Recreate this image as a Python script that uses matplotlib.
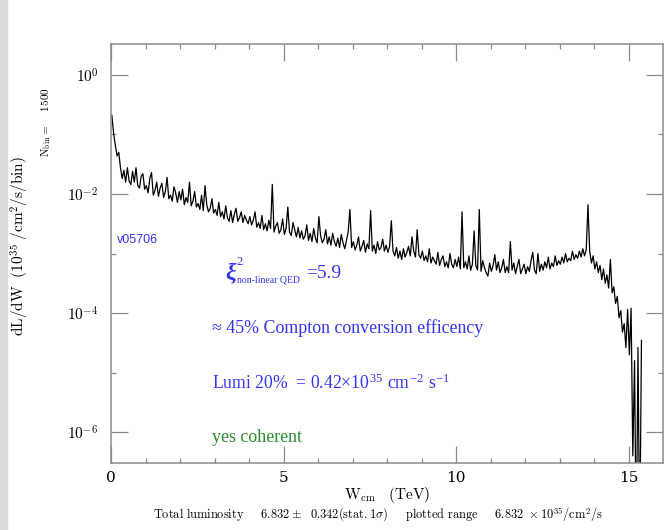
import numpy as np
import matplotlib
matplotlib.use("Agg")
import matplotlib.pyplot as plt
from matplotlib.patches import Rectangle

plt.rcParams['mathtext.fontset'] = 'cm'
plt.rcParams['font.family'] = 'serif'

# dL/dW histogram, log10 values, bins of 0.05 TeV starting at W = 0
bin_width = 0.05
log_lumi = [
    -0.68, -0.98, -1.18, -1.36, -1.30, -1.56, -1.74, -1.60, -1.80, -1.56,
    -1.78, -1.84, -1.62, -1.80, -1.56, -1.86, -1.90, -1.70, -1.66, -1.92,
    -1.86, -1.98, -1.74, -1.64, -2.02, -1.94, -1.80, -2.04, -1.90, -1.82,
    -2.06, -1.96, -1.72, -2.08, -2.02, -2.12, -1.88, -1.98, -2.14, -1.96,
    -2.10, -1.92, -2.18, -2.06, -2.14, -1.80, -2.20, -2.12, -1.96, -2.22,
    -2.16, -2.26, -2.02, -2.28, -1.86, -2.18, -2.30, -2.24, -2.08, -2.32,
    -2.26, -2.36, -2.14, -2.38, -2.30, -2.42, -2.20, -2.40, -2.46, -2.28,
    -2.48, -2.34, -2.24, -2.46, -2.40, -2.30, -2.48, -2.36, -2.44, -2.50,
    -2.38, -2.52, -2.44, -2.30, -2.56, -2.48, -2.58, -2.36, -2.60, -2.50,
    -2.62, -2.44, -2.58, -1.84, -2.64, -2.54, -2.48, -2.66, -2.60, -2.42,
    -2.68, -2.58, -2.22, -2.64, -2.70, -2.48, -2.60, -2.72, -2.56, -2.74,
    -2.62, -2.76, -2.70, -2.52, -2.78, -2.66, -2.80, -2.58, -2.74, -2.82,
    -2.38, -2.70, -2.82, -2.76, -2.60, -2.84, -2.72, -2.86, -2.66, -2.80,
    -2.88, -2.74, -2.90, -2.68, -2.82, -2.92, -2.78, -2.64, -2.26, -2.90,
    -2.80, -2.94, -2.86, -2.72, -2.96, -2.88, -2.78, -2.98, -2.84, -2.92,
    -2.28, -2.96, -2.86, -3.00, -2.80, -2.94, -2.90, -2.76, -2.96, -2.86,
    -2.98, -2.88, -2.45, -2.96, -3.04, -2.90, -3.08, -2.96, -3.10, -2.92,
    -3.06, -2.98, -2.88, -3.04, -2.72, -2.96, -3.06, -2.60, -3.02, -3.08,
    -2.96, -3.12, -3.04, -3.14, -2.92, -3.16, -3.06, -3.12, -3.18, -2.98,
    -3.20, -3.10, -3.04, -3.22, -3.14, -3.24, -3.00, -3.18, -3.24, -3.10,
    -3.22, -3.06, -3.26, -2.30, -3.24, -3.14, -3.26, -3.04, -3.28, -3.18,
    -2.62, -3.20, -3.28, -2.26, -3.30, -3.12, -3.24, -3.32, -3.38, -3.16,
    -3.30, -3.20, -3.02, -3.28, -3.14, -3.32, -3.24, -3.10, -3.32, -3.22,
    -3.32, -2.80, -3.28, -3.16, -3.34, -3.22, -3.10, -3.34, -3.26, -3.18,
    -3.34, -3.22, -3.30, -3.12, -2.98, -3.28, -3.34, -3.00, -3.30, -3.18,
    -3.28, -3.14, -3.24, -3.06, -3.26, -3.16, -3.22, -3.04, -3.20, -3.12,
    -3.18, -3.06, -3.16, -3.00, -3.14, -3.08, -3.12, -2.96, -3.10, -3.02,
    -3.08, -2.96, -3.06, -2.92, -3.04, -2.94, -2.18, -2.96, -3.16, -3.04,
    -3.26, -3.14, -3.32, -3.20, -3.44, -3.26, -3.50, -3.36, -3.58, -3.10,
    -3.66, -3.56, -3.84, -3.72, -4.08, -3.96, -4.32, -4.18, -4.58, -3.94,
    -4.70, -3.92, -6.40, -4.80, -8.00, -4.58, -8.00, -4.46,
]

x_ticks = [0, 5, 10, 15]
y_ticks = [1e0, 1e-2, 1e-4, 1e-6]
y_tick_labels = [r'$10^{0}$', r'$10^{-2}$', r'$10^{-4}$', r'$10^{-6}$']

blue = '#3434f2'
green = '#2a8c2a'
frame = '#8a8a8a'

W, H = 670, 530
fig = plt.figure(figsize=(W / 100, H / 100), dpi=100)
fig.patches.append(Rectangle((0, 0), 7 / W, 1, transform=fig.transFigure,
                             color='#dcdcdc', zorder=-1))

ax = fig.add_axes([111 / W, 67 / H, 552 / W, 419 / H])
centers = (np.arange(len(log_lumi)) + 0.5) * bin_width
ax.plot(centers, 10 ** np.array(log_lumi), color='black', lw=0.9)

ax.set_yscale('log')
ax.set_xlim(0, 16)
ax.set_ylim(10 ** -6.52, 10 ** 0.52)

ax.set_xticks(x_ticks)
ax.set_xticklabels([str(t) for t in x_ticks])
ax.set_xticks(np.arange(0, 16, 1), minor=True)
ax.set_yticks(y_ticks)
ax.set_yticklabels(y_tick_labels)
ax.set_yticks([1e-1, 1e-3, 1e-5], minor=True)
ax.yaxis.set_minor_formatter(matplotlib.ticker.NullFormatter())

for s in ax.spines.values():
    s.set_color(frame)
    s.set_linewidth(1.1)
ax.tick_params(which='both', direction='in', top=True, right=True, color=frame, width=0.9)
ax.tick_params(which='major', length=12, labelsize=11)
ax.tick_params(axis='x', which='major', pad=6)
ax.tick_params(axis='y', which='major', pad=9)
ax.tick_params(which='minor', length=3.6)

def px(x, y):
    return x / W, 1 - y / H

# axis labels and footer
fig.text(*px(20, 246), r'$\mathrm{dL/dW}\ \ (10^{35}\ /\mathrm{cm}^2/\mathrm{s}/\mathrm{bin})$',
         rotation=90, ha='center', va='center', fontsize=11)
fig.text(*px(46, 122), r'$\mathrm{N_{bin}}=\ \ \ \ 1500$', rotation=90,
         ha='center', va='center', fontsize=8)
fig.text(*px(387, 495), r'$\mathrm{W_{cm}}\quad(\mathrm{TeV})$', ha='center', va='center', fontsize=11)
fig.text(*px(378, 515),
         r'$\mathrm{Total\ luminosity}\ \ \ \ \ 6.832\pm\ \ 0.342(\mathrm{stat.}1\sigma)'
         r'\ \ \ \ \ \mathrm{plotted\ range}\ \ \ \ \ 6.832\ \times 10^{35}/\mathrm{cm}^2/\mathrm{s}$',
         ha='center', va='center', fontsize=8.9)

# annotations
fig.text(*px(117, 240), 'v05706', color=blue, family='Liberation Sans',
         fontsize=9, ha='left', va='center')
fig.text(*px(225, 273), 'ξ', color=blue, family='Liberation Serif', fontsize=17,
         fontweight='bold', style='italic', ha='left', va='center')
fig.text(*px(236, 262), '2', color=blue, family='Liberation Serif', fontsize=9,
         ha='left', va='center')
fig.text(*px(237, 280), 'non-linear QED', color=blue, family='Liberation Serif',
         fontsize=7, ha='left', va='center')
fig.text(*px(306, 273), '=5.9', color=blue, family='Liberation Serif', fontsize=14,
         ha='left', va='center')
fig.text(*px(212, 328), '≈ 45% Compton conversion efficency', color=blue,
         family='Liberation Serif', fontsize=12.9, ha='left', va='center')
fig.text(*px(212, 383),
         r'Lumi 20%  = 0.42×10$^{\mathregular{35}}$ cm$^{\mathregular{−2}}$ s$^{\mathregular{−1}}$',
         color=blue, family='Liberation Serif', fontsize=12.7, ha='left', va='center')
fig.text(*px(212, 437), 'yes coherent', color=green, family='Liberation Serif',
         fontsize=12.9, ha='left', va='center')

fig.savefig('out.png', dpi=100)
